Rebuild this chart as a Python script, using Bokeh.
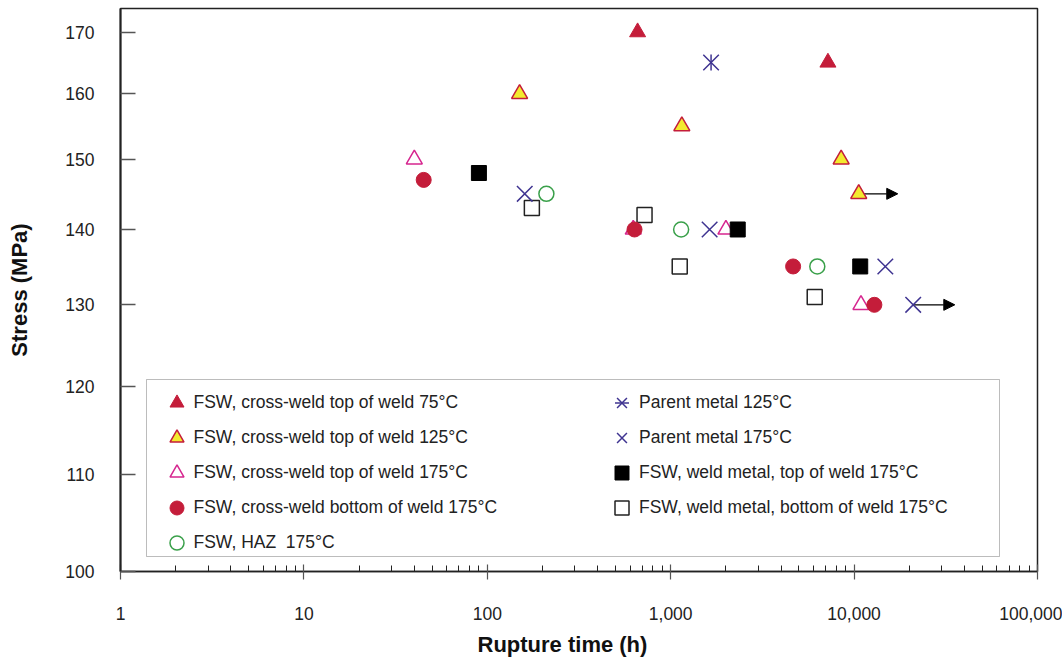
import math

from bokeh.plotting import figure
from bokeh.models import (Range1d, FixedTicker, NumeralTickFormatter, Legend, LegendItem,
                          BoxAnnotation, Title, Arrow, NormalHead, ColumnDataSource)
from bokeh.embed import file_html
from bokeh.resources import INLINE

# Creep rupture tests: rupture time (h) vs applied stress (MPa)
top75_t = [660, 7200]
top75_s = [170, 165]

top125_t = [150, 1150, 8500, 10600]
top125_s = [160, 155, 150, 145]

top175_t = [40, 625, 2000, 10900]
top175_s = [150, 140, 140, 130]

bottom175_t = [45, 635, 4650, 12900]
bottom175_s = [147, 140, 135, 130]

haz175_t = [210, 1140, 6300]
haz175_s = [145, 140, 135]

parent125_t = [1660]
parent125_s = [165]

parent175_t = [160, 1630, 14800, 21000]
parent175_s = [145, 140, 135, 130]

weldtop175_t = [90, 2320, 10800]
weldtop175_s = [148, 140, 135]

weldbottom175_t = [175, 720, 1120, 6100]
weldbottom175_s = [143, 142, 135, 131]

# unbroken (run-out) specimens: arrow from last reading onwards
runout_from = [10600, 21000]
runout_to = [17300, 35400]
runout_s = [145, 130]

x_ticks = [1, 10, 100, 1000, 10000, 100000]
y_ticks = [100, 110, 120, 130, 140, 150, 160, 170]

RED = "#c41d3a"
YELLOW = "#f3ea2e"
MAGENTA = "#d6268f"
GREEN = "#3aa04a"
PURPLE = "#3f3491"
INK = "#222222"
FONT = "Liberation Sans"

p = figure(width=1062, height=664, x_axis_type="log", y_axis_type="log",
           x_range=Range1d(1, 100000), y_range=Range1d(100, 174),
           output_backend="svg", toolbar_location=None,
           min_border_left=120, min_border_right=25, min_border_top=8, min_border_bottom=92)
p.xgrid.visible = False
p.ygrid.visible = False
p.outline_line_color = INK
p.outline_line_width = 1.5
p.background_fill_color = "white"
p.border_fill_color = "white"

# axes
minor_x = [m * 10 ** k for k in range(0, 5) for m in range(2, 10)]
p.xaxis.ticker = FixedTicker(ticks=x_ticks, minor_ticks=minor_x)
p.yaxis.ticker = FixedTicker(ticks=y_ticks, minor_ticks=[])
p.xaxis.formatter = NumeralTickFormatter(format="0,0")
p.yaxis.formatter = NumeralTickFormatter(format="0")

for ax in (p.xaxis[0], p.yaxis[0]):
    ax.major_label_text_font = FONT
    ax.major_label_text_font_size = "17.5px"
    ax.major_label_text_color = INK
    ax.axis_line_color = INK
    ax.major_tick_line_color = "#555555"

p.xaxis.axis_line_width = 1.5
p.xaxis.major_tick_in = 7
p.xaxis.major_tick_out = 8
p.xaxis.minor_tick_in = 6
p.xaxis.minor_tick_out = 0
p.xaxis.minor_tick_line_color = INK
p.xaxis.major_tick_line_width = 1.2
p.xaxis.major_label_standoff = 27

p.yaxis.axis_line_width = 2
p.yaxis.major_tick_in = 15
p.yaxis.major_tick_out = 0
p.yaxis.major_tick_line_width = 1.5
p.yaxis.minor_tick_line_color = None
p.yaxis.major_label_standoff = 26

# axis titles
p.yaxis.axis_label = "Stress (MPa)"
p.yaxis.axis_label_standoff = 30
p.yaxis.axis_label_text_font = FONT
p.yaxis.axis_label_text_font_size = "22px"
p.yaxis.axis_label_text_font_style = "bold"
p.yaxis.axis_label_text_color = "#111111"

p.add_layout(Title(text="Rupture time (h)", align="left", offset=357, standoff=15,
                   text_font=FONT, text_font_size="22px", text_font_style="bold",
                   text_color="#111111"), "below")

# run-out arrows sit beneath the markers
arrows = ColumnDataSource(dict(x0=runout_from, x1=runout_to, y=runout_s))
p.add_layout(Arrow(end=NormalHead(size=11, fill_color="black", line_color="black", line_width=1),
                   x_start="x0", y_start="y", x_end="x1", y_end="y", source=arrows,
                   line_color="black", line_width=1.2, level="underlay"))

# data series
r_wb = p.scatter(weldbottom175_t, weldbottom175_s, marker="square", size=15,
                 fill_color="white", line_color=INK, line_width=1.5)
r_top175 = p.scatter(top175_t, top175_s, marker="triangle", size=16,
                     fill_color="white", line_color=MAGENTA, line_width=1.5)
r_haz = p.scatter(haz175_t, haz175_s, marker="circle", size=15,
                  fill_color="white", line_color=GREEN, line_width=1.5)
r_p175 = p.scatter(parent175_t, parent175_s, marker="x", size=22,
                   line_color=PURPLE, line_width=1.5)
r_p125x = p.scatter(parent125_t, parent125_s, marker="x", size=22,
                    line_color=PURPLE, line_width=1.5)
r_p125v = p.scatter(parent125_t, parent125_s, marker="dash", size=16, angle=math.pi / 2,
                    line_color=PURPLE, line_width=1.5)
r_bot175 = p.scatter(bottom175_t, bottom175_s, marker="circle", size=15,
                     fill_color=RED, line_color=RED, line_width=1)
r_wt = p.scatter(weldtop175_t, weldtop175_s, marker="square", size=15,
                 fill_color="black", line_color="black", line_width=1)
r_top125 = p.scatter(top125_t, top125_s, marker="triangle", size=16,
                     fill_color=YELLOW, line_color=RED, line_width=1.5)
r_top75 = p.scatter(top75_t, top75_s, marker="triangle", size=16,
                    fill_color=RED, line_color=RED, line_width=1)

# legend frame
p.add_layout(BoxAnnotation(left=26, right=879, bottom=15, top=192,
                           left_units="screen", right_units="screen",
                           bottom_units="screen", top_units="screen",
                           fill_color=None, fill_alpha=0, line_color=INK, line_width=1,
                           level="overlay"))


def make_legend(items, loc, standoff):
    return Legend(items=[LegendItem(label=t, renderers=r) for t, r in items],
                  location=loc, orientation="vertical",
                  background_fill_alpha=0, border_line_color=None,
                  padding=0, margin=0, spacing=0,
                  glyph_width=35, glyph_height=35, label_height=35,
                  label_standoff=standoff,
                  label_text_font=FONT, label_text_font_size="17.5px",
                  label_text_color=INK, label_text_baseline="middle")


p.add_layout(make_legend([
    ("FSW, cross-weld top of weld 75°C", [r_top75]),
    ("FSW, cross-weld top of weld 125°C", [r_top125]),
    ("FSW, cross-weld top of weld 175°C", [r_top175]),
    ("FSW, cross-weld bottom of weld 175°C", [r_bot175]),
    ("FSW, HAZ  175°C", [r_haz]),
], (38.5, 11.5), 0))

p.add_layout(make_legend([
    ("Parent metal 125°C", [r_p125x, r_p125v]),
    ("Parent metal 175°C", [r_p175]),
    ("FSW, weld metal, top of weld 175°C", [r_wt]),
    ("FSW, weld metal, bottom of weld 175°C", [r_wb]),
], (484, 46.5), -6))

open("out.html", "w").write(file_html(p, INLINE))
